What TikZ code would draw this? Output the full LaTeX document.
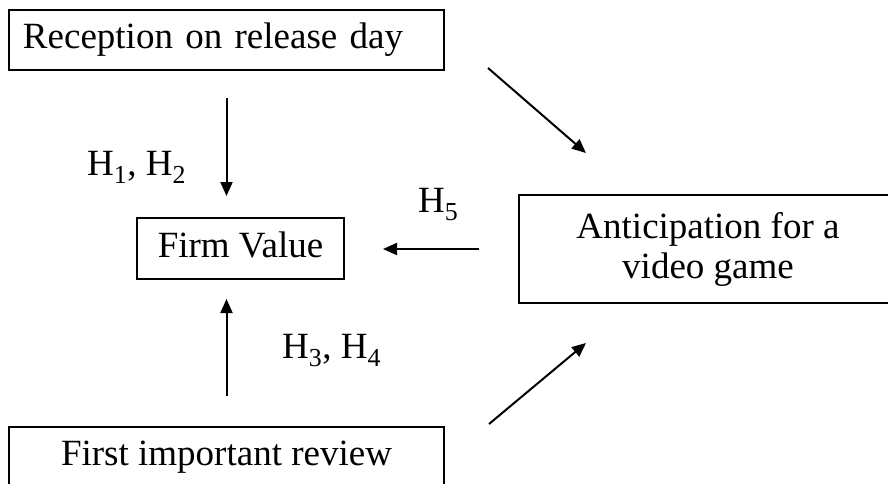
\documentclass[tikz,border=0pt]{standalone}
\usepackage{fontspec}
\setmainfont{Liberation Serif}
\usetikzlibrary{arrows.meta}
\tikzset{
  frame/.style={draw, line width=2pt, inner sep=0pt, font=\fontsize{37}{40}\selectfont},
  box/.style={frame, text height=25pt, text depth=8pt},
  lbl/.style={anchor=base west, inner sep=0pt, font=\fontsize{37}{40}\selectfont},
  arr/.style={line width=2pt, -{Triangle[length=14pt,width=12pt]}}
}
\begin{document}
\begin{tikzpicture}[x=1pt, y=-1pt]
  \useasboundingbox (0,0) rectangle (888,483);
  \clip (0,0) rectangle (888,483);
  % boxes
  \node[box, minimum width=435pt, minimum height=60pt, text width=407pt, inner xsep=14pt, align=left]
    (reception) at (226.5,40) {Reception on release day};
  \node[box, minimum width=435pt, minimum height=60pt]
    (first) at (226.5,457) {First important review};
  \node[box, minimum width=207pt, minimum height=61pt]
    (firm) at (240.5,248.5) {Firm Value};
  \node[frame, minimum width=378pt, minimum height=108pt, align=center]
    (antic) at (708,249) {Anticipation for a\\video game};
  % connectors
  \draw[arr] ([yshift=-27pt]reception.south) -- ([yshift=21pt]firm.north -| reception.south);
  \draw[arr] ([yshift=30pt]first.north) -- ([yshift=-19pt]firm.south -| first.north);
  \draw[arr] ([xshift=-39pt]antic.west) -- ([xshift=38pt]antic.west -| firm.east);
  \draw[arr] ([shift={(43pt,-59pt)}]reception.north east) -- ([shift={(68pt,41pt)}]antic.north west);
  \draw[arr] ([shift={(44pt,2pt)}]first.north east) -- ([shift={(68pt,-39pt)}]antic.south west);
  % hypothesis labels
  \node[lbl] (h12) at (87,175) {H\textsubscript{1}, H\textsubscript{2}};
  \node[lbl] (h34) at (282,358) {H\textsubscript{3}, H\textsubscript{4}};
  \node[lbl] (h5) at (418,212) {H\textsubscript{5}};
\end{tikzpicture}
\end{document}
